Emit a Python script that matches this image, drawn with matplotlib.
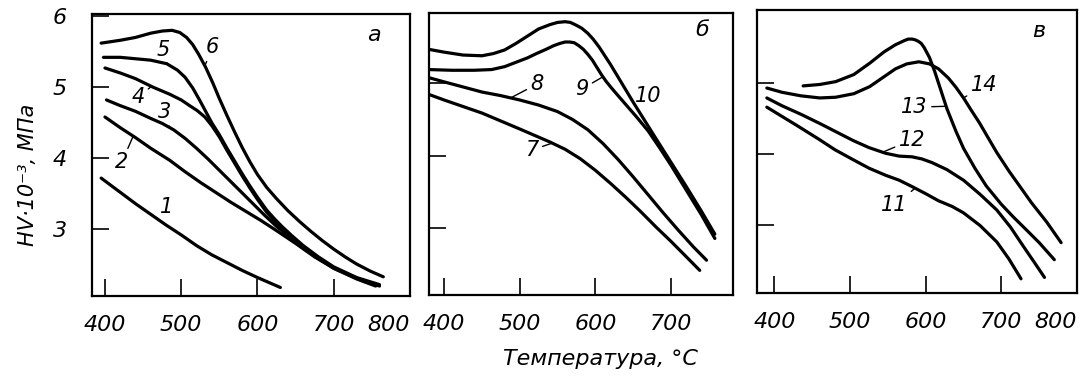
import numpy as np
import matplotlib
matplotlib.use("Agg")
import matplotlib.pyplot as plt

plt.rcParams['font.family'] = ['DejaVu Sans']
plt.rcParams['font.style'] = 'italic'

# ---------------- data (temperature, °C ; HV*10^-3, MPa) ----------------
# panel a
c1_x = [395, 420, 440, 460, 480, 500, 520, 540, 560, 580, 600, 615, 630]
c1_y = [3.72, 3.52, 3.36, 3.21, 3.06, 2.92, 2.77, 2.64, 2.53, 2.42, 2.32, 2.25, 2.18]
c2_x = [400, 420, 440, 460, 485, 505, 525, 545, 565, 585, 605, 625, 650, 675, 700, 730, 760]
c2_y = [4.58, 4.43, 4.29, 4.14, 3.97, 3.81, 3.66, 3.52, 3.38, 3.25, 3.12, 2.98, 2.80, 2.61, 2.45, 2.31, 2.20]
c3_x = [402, 420, 440, 460, 475, 490, 505, 520, 535, 550, 565, 580, 595, 610, 625, 640, 655, 675, 700, 730, 755]
c3_y = [4.82, 4.74, 4.66, 4.56, 4.49, 4.40, 4.28, 4.14, 3.99, 3.83, 3.67, 3.51, 3.35, 3.19, 3.04, 2.91, 2.78, 2.62, 2.46, 2.31, 2.21]
c4_x = [400, 420, 440, 463, 485, 500, 511, 521, 531, 540, 550, 560, 570, 580, 590, 600, 612, 622, 632, 645, 660, 680, 700, 730, 755]
c4_y = [5.27, 5.20, 5.12, 5.00, 4.90, 4.82, 4.74, 4.67, 4.58, 4.46, 4.30, 4.11, 3.93, 3.75, 3.58, 3.42, 3.24, 3.12, 3.01, 2.89, 2.75, 2.59, 2.45, 2.30, 2.20]
c5_x = [398, 420, 440, 460, 481, 495, 505, 515, 525, 533, 540, 550, 560, 570, 580, 590, 600, 612, 622, 632, 645, 660, 680, 700, 730, 760]
c5_y = [5.42, 5.42, 5.40, 5.38, 5.33, 5.24, 5.14, 4.99, 4.80, 4.64, 4.50, 4.33, 4.14, 3.96, 3.78, 3.61, 3.45, 3.27, 3.15, 3.04, 2.91, 2.77, 2.61, 2.47, 2.32, 2.22]
c6_x = [395, 420, 440, 460, 475, 488, 498, 507, 515, 523, 532, 541, 550, 560, 570, 580, 590, 600, 612, 625, 640, 655, 670, 685, 700, 715, 730, 748, 765]
c6_y = [5.62, 5.66, 5.70, 5.76, 5.79, 5.80, 5.77, 5.70, 5.60, 5.46, 5.28, 5.07, 4.84, 4.60, 4.37, 4.15, 3.95, 3.77, 3.59, 3.43, 3.26, 3.11, 2.97, 2.84, 2.72, 2.61, 2.51, 2.41, 2.33]

# panel b
c7_x = [379, 400, 425, 450, 475, 500, 520, 540, 560, 580, 600, 620, 640, 660, 680, 700, 720, 738]
c7_y = [4.85, 4.77, 4.68, 4.59, 4.48, 4.37, 4.28, 4.19, 4.09, 3.96, 3.80, 3.62, 3.43, 3.23, 3.02, 2.82, 2.61, 2.42]
c8_x = [379, 400, 425, 450, 475, 500, 525, 550, 570, 590, 610, 630, 650, 670, 690, 710, 730, 747]
c8_y = [5.08, 5.02, 4.95, 4.88, 4.83, 4.77, 4.70, 4.61, 4.50, 4.36, 4.17, 3.95, 3.71, 3.46, 3.21, 2.97, 2.74, 2.56]
c9_x = [379, 410, 440, 463, 480, 495, 510, 522, 535, 545, 553, 560, 566, 572, 578, 584, 590, 596, 602, 608, 614, 621, 630, 640, 655, 670, 685, 700, 720, 740, 758]
c9_y = [5.19, 5.18, 5.18, 5.19, 5.23, 5.29, 5.35, 5.41, 5.47, 5.52, 5.55, 5.57, 5.57, 5.56, 5.52, 5.47, 5.40, 5.32, 5.22, 5.12, 5.03, 4.94, 4.83, 4.71, 4.53, 4.34, 4.11, 3.87, 3.53, 3.19, 2.86]
c10_x = [379, 400, 425, 450, 465, 480, 495, 510, 525, 540, 550, 560, 567, 575, 582, 590, 597, 605, 620, 635, 650, 665, 680, 700, 720, 740, 758]
c10_y = [5.47, 5.43, 5.39, 5.38, 5.41, 5.46, 5.55, 5.65, 5.75, 5.81, 5.84, 5.85, 5.84, 5.80, 5.76, 5.69, 5.61, 5.50, 5.26, 5.00, 4.74, 4.49, 4.24, 3.91, 3.58, 3.24, 2.92]

# panel c
c11_x = [390, 410, 430, 460, 480, 504, 525, 547, 565, 582, 600, 617, 635, 650, 672, 694, 710, 726]
c11_y = [4.66, 4.53, 4.40, 4.20, 4.06, 3.92, 3.80, 3.70, 3.63, 3.54, 3.44, 3.34, 3.26, 3.17, 2.99, 2.76, 2.52, 2.24]
c12_x = [390, 410, 435, 460, 482, 504, 525, 547, 565, 582, 595, 608, 628, 650, 672, 694, 712, 729, 745, 757]
c12_y = [4.79, 4.68, 4.56, 4.43, 4.31, 4.19, 4.09, 4.01, 3.97, 3.96, 3.93, 3.88, 3.78, 3.63, 3.43, 3.21, 2.97, 2.70, 2.45, 2.26]
c13_x = [438, 460, 481, 505, 526, 545, 560, 572, 577, 582, 586, 590, 594, 598, 605, 612, 620, 628, 640, 650, 665, 680, 700, 716, 735, 750, 770]
c13_y = [4.96, 4.98, 5.02, 5.12, 5.28, 5.44, 5.54, 5.60, 5.62, 5.62, 5.61, 5.59, 5.56, 5.50, 5.36, 5.16, 4.90, 4.64, 4.32, 4.08, 3.80, 3.55, 3.29, 3.11, 2.91, 2.75, 2.51]
c14_x = [390, 410, 435, 460, 481, 505, 526, 545, 560, 575, 591, 605, 617, 630, 640, 650, 660, 671, 683, 694, 710, 724, 740, 760, 779]
c14_y = [4.93, 4.87, 4.82, 4.79, 4.80, 4.85, 4.95, 5.09, 5.20, 5.27, 5.30, 5.27, 5.20, 5.07, 4.94, 4.79, 4.62, 4.44, 4.22, 4.02, 3.76, 3.55, 3.31, 3.04, 2.75]

x_ticks_a = [400, 500, 600, 700, 800]
x_ticks_b = [400, 500, 600, 700]
x_ticks_c = [400, 500, 600, 700, 800]
y_ticks_a = [3, 4, 5, 6]
y_ticks_bc = [3, 4, 5]
y_tick_labels = ['3', '4', '5', '6']
panel_letters = ['а', 'б', 'в']
x_label = 'Температура, °C'
y_label = 'HV·10⁻³, МПа'

# curve labels: (text, text_x, text_y, curve index, x of leader end)
labels_a = [('1', 481, 3.31, 0, 468), ('2', 422, 3.94, 1, 437), ('3', 478, 4.65, 2, 485),
            ('4', 443, 4.86, 3, 461), ('5', 476, 5.52, 4, 482), ('6', 541, 5.56, 5, 531)]
labels_b = [('7', 516, 4.08, 0, 543), ('8', 523, 4.99, 1, 488), ('9', 582, 4.92, 2, 610),
            ('10', 670, 4.82, 3, 648)]
labels_c = [('11', 559, 3.28, 0, 586), ('12', 582, 4.20, 1, 543), ('13', 585, 4.66, 2, 627),
            ('14', 677, 4.97, 3, 650)]

# ---------------- figure ----------------
W, H = 1085, 378
fig = plt.figure(figsize=(W / 100, H / 100), dpi=100)


def box(l, t, r, b):
    return [l / W, 1 - b / H, (r - l) / W, (b - t) / H]


ax_a = fig.add_axes(box(92, 14, 410, 296))
ax_b = fig.add_axes(box(429, 13, 733, 295))
ax_c = fig.add_axes(box(757, 10, 1077, 293))

panels = [
    (ax_a, [(c1_x, c1_y), (c2_x, c2_y), (c3_x, c3_y), (c4_x, c4_y), (c5_x, c5_y), (c6_x, c6_y)],
     labels_a, (383, 800), (2.06, 6.03), x_ticks_a, y_ticks_a, 753),
    (ax_b, [(c7_x, c7_y), (c8_x, c8_y), (c9_x, c9_y), (c10_x, c10_y)],
     labels_b, (380, 782), (2.08, 5.97), x_ticks_b, y_ticks_bc, 741),
    (ax_c, [(c11_x, c11_y), (c12_x, c12_y), (c13_x, c13_y), (c14_x, c14_y)],
     labels_c, (377, 800), (2.04, 6.03), x_ticks_c, y_ticks_bc, 750),
]

fs = 15
for i, (ax, curves, labs, xl, yl, xt, yt, letter_x) in enumerate(panels):
    for cx, cy in curves:
        ax.plot(cx, cy, color='black', lw=2.3, solid_capstyle='round', solid_joinstyle='round')
    for txt, tx, ty, ci, lx in labs:
        cx, cy = curves[ci]
        ly = float(np.interp(lx, cx, cy))
        ax.annotate(txt, xy=(lx, ly), xytext=(tx, ty), fontsize=fs, ha='center', va='center',
                    arrowprops=dict(arrowstyle='-', lw=1.0, color='black', shrinkA=1, shrinkB=0))
    ax.text(letter_x, 5.73, panel_letters[i], fontsize=fs + 1, ha='center', va='center')
    ax.set_xlim(*xl)
    ax.set_ylim(*yl)
    ax.set_xticks(xt)
    ax.set_xticklabels([str(v) for v in xt])
    ax.set_yticks(yt)
    if i == 0:
        ax.set_yticklabels(y_tick_labels)
    else:
        ax.set_yticklabels([])
    ax.tick_params(axis='both', direction='in', length=12, width=1.2, labelsize=fs + 1)
    ax.tick_params(axis='x', pad=14)
    ax.tick_params(axis='y', pad=18)
    for s in ax.spines.values():
        s.set_linewidth(1.6)
    if xt[-1] == 800:
        ax.xaxis.get_major_ticks()[-1].label1.set_horizontalalignment('right')

fig.text(600 / W, 1 - 359 / H, x_label, fontsize=fs + 1, ha='center', va='center')
fig.text(28 / W, 1 - 175 / H, y_label, fontsize=fs, ha='center', va='center', rotation=90)

fig.savefig('out.png', dpi=100)
